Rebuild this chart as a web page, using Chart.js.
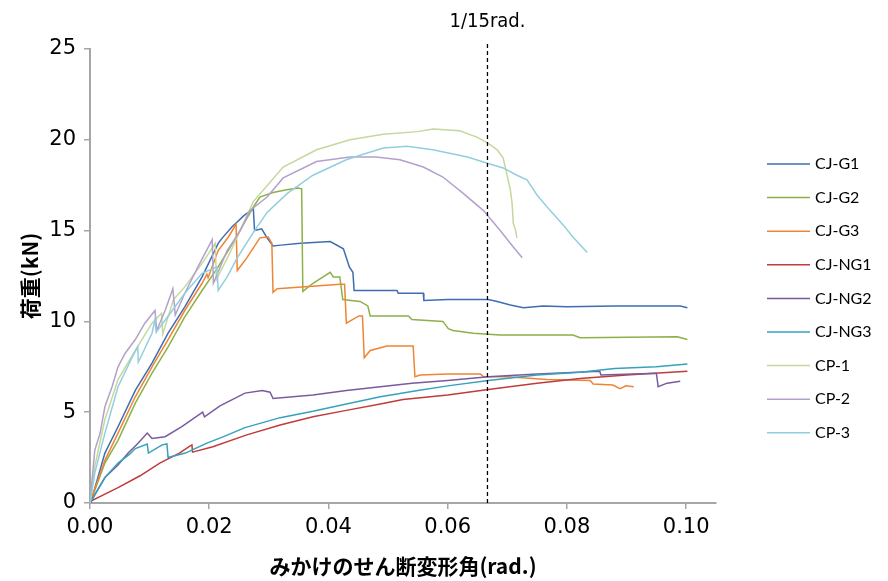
<!DOCTYPE html>
<html><head><meta charset="utf-8">
<script src="https://cdn.jsdelivr.net/npm/chart.js@4.4.1/dist/chart.umd.min.js"></script>
<style>
html,body{margin:0;padding:0;background:#fff}canvas{display:block}
</style>
</head><body>
<canvas id="c" width="888" height="581"></canvas>
<script>
// ---- data ----
const seriesNames = ["CJ-G1","CJ-G2","CJ-G3","CJ-NG1","CJ-NG2","CJ-NG3","CP-1","CP-2","CP-3"];
const CJ_G1 = [[0,0],[0.0004,0.35],[0.0025,2.75],[0.0047,4.2],[0.0076,6.2],[0.0104,7.7],[0.0131,9.35],[0.0159,10.8],[0.0188,12.45],[0.0215,14.3],[0.0222,14.6],[0.0238,15.2],[0.0259,15.85],[0.0274,16.2],[0.0276,15.0],[0.0288,15.1],[0.0297,14.6],[0.0307,14.15],[0.0320,14.2],[0.0353,14.3],[0.0403,14.4],[0.0425,14.0],[0.0430,13.5],[0.0435,13.0],[0.0441,12.7],[0.0443,11.7],[0.0515,11.7],[0.0517,11.55],[0.0559,11.55],[0.0560,11.15],[0.0600,11.2],[0.0668,11.2],[0.0683,11.1],[0.0705,10.9],[0.0727,10.75],[0.0760,10.85],[0.0800,10.8],[0.0880,10.85],[0.0990,10.85],[0.1002,10.75]];
const CJ_G2 = [[0,0],[0.0025,2.2],[0.0047,3.45],[0.0076,5.5],[0.0104,7.15],[0.0131,8.6],[0.0159,10.25],[0.0188,11.7],[0.0215,13.0],[0.0243,14.5],[0.0260,15.5],[0.0274,16.3],[0.0285,16.85],[0.0307,17.1],[0.0330,17.25],[0.0349,17.35],[0.0355,17.3],[0.0357,11.65],[0.0374,12.1],[0.0403,12.7],[0.0408,12.45],[0.0419,12.45],[0.0424,11.2],[0.0453,11.1],[0.0466,10.85],[0.0470,10.3],[0.0534,10.3],[0.0540,10.1],[0.0592,10.0],[0.0601,9.6],[0.0609,9.5],[0.0643,9.35],[0.0688,9.25],[0.0810,9.25],[0.0822,9.1],[0.0985,9.15],[0.1002,9.0]];
const CJ_G3 = [[0,0],[0.0025,2.35],[0.0047,3.85],[0.0076,5.85],[0.0104,7.5],[0.0131,9.0],[0.0159,10.6],[0.0188,12.1],[0.0196,12.6],[0.0198,12.4],[0.0215,13.9],[0.0232,14.65],[0.0245,15.35],[0.0247,12.8],[0.0263,13.5],[0.0285,14.6],[0.0299,14.65],[0.0305,14.3],[0.0307,11.6],[0.0314,11.8],[0.0420,12.05],[0.0427,12.05],[0.0430,9.9],[0.0451,10.3],[0.0457,10.3],[0.0460,8.0],[0.0470,8.4],[0.0498,8.65],[0.0542,8.65],[0.0545,6.95],[0.0554,7.05],[0.0600,7.1],[0.0655,7.1],[0.0660,6.95],[0.0700,6.95],[0.0767,6.8],[0.0839,6.75],[0.0844,6.55],[0.0877,6.5],[0.0889,6.3],[0.0899,6.45],[0.0912,6.4]];
const CJ_NG1 = [[0,0],[0.0004,0.15],[0.0047,0.85],[0.0084,1.5],[0.0117,2.2],[0.0150,2.75],[0.0168,3.15],[0.0171,3.2],[0.0172,2.8],[0.0206,3.1],[0.0263,3.75],[0.0319,4.3],[0.0374,4.75],[0.0430,5.1],[0.0487,5.45],[0.0525,5.7],[0.0600,5.95],[0.0668,6.25],[0.0750,6.6],[0.0822,6.85],[0.0900,7.05],[0.1002,7.25]];
const CJ_NG2 = [[0,0],[0.0025,1.4],[0.0047,2.1],[0.0064,2.75],[0.0081,3.3],[0.0096,3.85],[0.0104,3.55],[0.0126,3.65],[0.0154,4.2],[0.0189,5.0],[0.0192,4.75],[0.0218,5.35],[0.0260,6.05],[0.0289,6.2],[0.0302,6.1],[0.0307,5.75],[0.0374,5.95],[0.0430,6.2],[0.0487,6.4],[0.0540,6.6],[0.0600,6.75],[0.0668,6.95],[0.0750,7.1],[0.0855,7.25],[0.0857,7.05],[0.0950,7.15],[0.0953,6.4],[0.0968,6.6],[0.0990,6.7]];
const CJ_NG3 = [[0,0],[0.0025,1.4],[0.0047,2.2],[0.0067,2.7],[0.0076,3.0],[0.0096,3.25],[0.0098,2.75],[0.0121,3.2],[0.0129,3.25],[0.0131,2.5],[0.0160,2.75],[0.0196,3.3],[0.0220,3.6],[0.0260,4.15],[0.0319,4.7],[0.0374,5.05],[0.0430,5.45],[0.0487,5.85],[0.0550,6.2],[0.0600,6.45],[0.0668,6.75],[0.0750,7.05],[0.0822,7.2],[0.0880,7.4],[0.0950,7.5],[0.1002,7.65]];
const CP_1 = [[0,0],[0.0008,2.0],[0.0025,4.6],[0.0047,6.8],[0.0076,8.4],[0.0104,9.9],[0.0120,10.45],[0.0122,9.3],[0.0140,11.2],[0.0159,11.9],[0.0188,13.2],[0.0210,14.3],[0.0212,12.3],[0.0235,13.8],[0.0274,16.6],[0.0324,18.5],[0.0380,19.45],[0.0436,20.0],[0.0492,20.3],[0.0549,20.45],[0.0576,20.6],[0.0620,20.5],[0.0649,20.15],[0.0668,19.8],[0.0683,19.45],[0.0693,19.0],[0.0700,18.0],[0.0705,17.25],[0.0708,16.5],[0.0710,15.4],[0.0714,15.0],[0.0716,14.6]];
const CP_2 = [[0,0],[0.0003,1.1],[0.0008,2.9],[0.0017,3.85],[0.0025,5.3],[0.0037,6.4],[0.0047,7.5],[0.0059,8.25],[0.0076,9.0],[0.0092,9.9],[0.0109,10.6],[0.0112,9.5],[0.0126,10.6],[0.0139,11.8],[0.0143,10.35],[0.0159,11.55],[0.0181,13.0],[0.0205,14.5],[0.0207,12.1],[0.0230,13.9],[0.0252,15.0],[0.0268,16.1],[0.0297,16.85],[0.0324,17.9],[0.0380,18.8],[0.0436,19.05],[0.0480,19.05],[0.0520,18.9],[0.0559,18.5],[0.0592,17.95],[0.0626,17.05],[0.0660,16.1],[0.0688,15.0],[0.0710,14.1],[0.0725,13.5]];
const CP_3 = [[0,0],[0.0008,1.65],[0.0025,3.85],[0.0047,6.4],[0.0071,8.05],[0.0080,8.6],[0.0081,7.75],[0.0104,9.35],[0.0109,10.1],[0.0111,9.4],[0.0138,10.6],[0.0159,11.55],[0.0188,12.65],[0.0213,13.0],[0.0215,11.7],[0.0230,12.45],[0.0247,13.5],[0.0273,14.85],[0.0297,16.0],[0.0331,17.05],[0.0374,18.05],[0.0430,18.9],[0.0453,19.15],[0.0492,19.55],[0.0532,19.65],[0.0575,19.45],[0.0633,19.05],[0.0668,18.7],[0.0693,18.45],[0.0716,18.05],[0.0733,17.8],[0.0750,16.95],[0.0772,16.1],[0.0794,15.3],[0.0810,14.65],[0.0834,13.8]];
const seriesData = [CJ_G1, CJ_G2, CJ_G3, CJ_NG1, CJ_NG2, CJ_NG3, CP_1, CP_2, CP_3];
const seriesColors = ["#3F6DB3","#8DB049","#EE8534","#BF3C3A","#7A5A9F","#35A2BC","#C4D89D","#B3A1CB","#93CEDE"];
const xTicks = [0, 0.02, 0.04, 0.06, 0.08, 0.10];
const yTicks = [0, 5, 10, 15, 20, 25];
const refDrift = 1/15;
const refLabel = "1/15rad.";
const xTitle = "みかけのせん断変形角(rad.)";
const yTitle = "荷重(kN)";

const tickFamily = "'DejaVu Sans', sans-serif";
const tickFont = {family: tickFamily, size: 21, style: 'condensed'};
const titleFont = {family: "'Noto Sans CJK JP',sans-serif", size: 21, weight: 'bold'};

const datasets = seriesData.map((arr, i) => ({
  label: seriesNames[i],
  data: arr.map(p => ({x: p[0], y: p[1]})),
  borderColor: seriesColors[i],
  borderWidth: 1.5,
  pointRadius: 0,
  fill: false,
  tension: 0,
  order: 20 - i
}));
datasets.push({
  label: '_ref',
  data: [{x: refDrift, y: 0}, {x: refDrift, y: 25.3}],
  borderColor: '#000',
  borderWidth: 1.3,
  borderDash: [4, 3],
  pointRadius: 0,
  fill: false,
  order: 0,
  clip: false
});

const legendPlugin = {
  id: 'customLegend',
  afterDraw(chart) {
    const ctx = chart.ctx;
    ctx.save();
    ctx.font = "16px Lato, 'Open Sans', sans-serif";
    ctx.textBaseline = 'middle';
    ctx.fillStyle = '#000';
    seriesNames.forEach((name, i) => {
      const y = 164 + i * 33.6;
      ctx.strokeStyle = seriesColors[i];
      ctx.lineWidth = 1.5;
      ctx.beginPath(); ctx.moveTo(767, y); ctx.lineTo(810, y); ctx.stroke();
      ctx.fillText(name, 815, y);
    });
    const xs = chart.scales.x;
    ctx.font = "condensed 20px " + tickFamily;
    ctx.textAlign = 'center';
    ctx.fillText(refLabel, xs.getPixelForValue(refDrift), 22);
    ctx.restore();
  }
};

new Chart(document.getElementById('c'), {
  type: 'line',
  data: {datasets},
  options: {
    responsive: false,
    animation: false,
    devicePixelRatio: 1,
    layout: {padding: {left: 0, right: 172, top: 49, bottom: 0}},
    plugins: {legend: {display: false}, tooltip: {enabled: false}},
    scales: {
      x: {
        type: 'linear', min: 0, max: 0.105,
        afterBuildTicks: s => { s.ticks = xTicks.map(v => ({value: v})); },
        afterFit: s => { s.height = 78; },
        ticks: {font: tickFont, color: '#000', padding: 6, maxRotation: 0, callback: v => v.toFixed(2)},
        grid: {drawOnChartArea: false, drawTicks: true, tickLength: 6, color: '#A6A6A6', lineWidth: 1.5},
        border: {display: true, color: '#A6A6A6', width: 2},
        title: {display: true, text: xTitle, font: titleFont, color: '#000', padding: {top: 0, bottom: 2}}
      },
      y: {
        type: 'linear', min: 0, max: 25,
        afterBuildTicks: s => { s.ticks = yTicks.map(v => ({value: v})); },
        afterFit: s => { s.width = 90; },
        ticks: {font: tickFont, color: '#000', padding: 8},
        grid: {drawOnChartArea: false, drawTicks: true, tickLength: 6, color: '#A6A6A6', lineWidth: 1.5},
        border: {display: true, color: '#A6A6A6', width: 2},
        title: {display: true, text: yTitle, font: titleFont, color: '#000', padding: {top: 17, bottom: 0}}
      }
    }
  },
  plugins: [legendPlugin]
});
</script>
</body></html>
